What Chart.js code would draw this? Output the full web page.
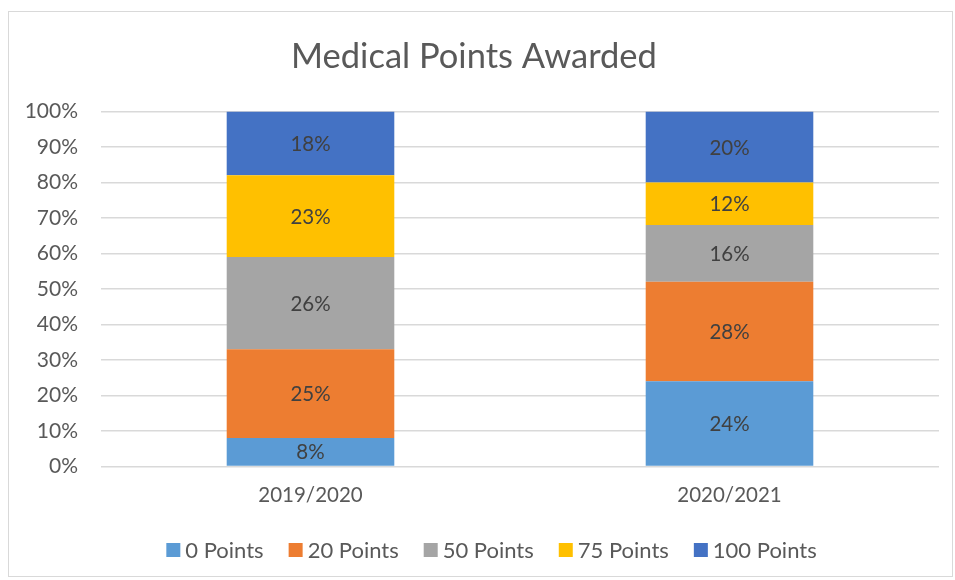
<!DOCTYPE html>
<html>
<head>
<meta charset="utf-8">
<script src="https://cdn.jsdelivr.net/npm/chart.js@4/dist/chart.umd.min.js"></script>
<style>
  html, body { margin: 0; padding: 0; background: #fff; }
  #frame {
    position: absolute; left: 8px; top: 11px;
    width: 943px; height: 564px;
    border: 1px solid #d9d9d9;
  }
  #frame canvas { display: block; }
</style>
</head>
<body>
<div id="frame"><canvas id="pointsChart" width="943" height="564"></canvas></div>
<script>
const seasons = ["2019/2020", "2020/2021"];
const pointLevels = ["0 Points", "20 Points", "50 Points", "75 Points", "100 Points"];
const share0 = [8, 24];
const share20 = [25, 28];
const share50 = [26, 16];
const share75 = [23, 12];
const share100 = [18, 20];
const yTicks = [0, 10, 20, 30, 40, 50, 60, 70, 80, 90, 100];

const palette = ["#5B9BD5", "#ED7D31", "#A5A5A5", "#FFC000", "#4472C4"];
const fontFamily = "Lato, 'Open Sans', sans-serif";

const seriesValues = [share0, share20, share50, share75, share100];

// writes each segment's percentage in the middle of its bar piece
const segmentLabels = {
    id: "segmentLabels",
    afterDatasetsDraw(chart) {
        const ctx = chart.ctx;
        ctx.save();
        ctx.font = "20.5px " + fontFamily;
        ctx.fillStyle = "#404040";
        ctx.textAlign = "center";
        ctx.textBaseline = "middle";
        chart.data.datasets.forEach((ds, i) => {
            const meta = chart.getDatasetMeta(i);
            meta.data.forEach((bar, j) => {
                const v = ds.data[j];
                ctx.fillText(v + "%", bar.x, (bar.y + bar.base) / 2 + 1);
            });
        });
        ctx.restore();
    }
};

// compact legend row under the axis: small square, short gap, label
const bottomLegend = {
    id: "bottomLegend",
    afterDraw(chart, args, opts) {
        const ctx = chart.ctx;
        const box = 14, gap = 5, spacing = 25;
        ctx.save();
        ctx.font = "22px " + fontFamily;
        ctx.textBaseline = "middle";
        const items = chart.data.datasets.map(ds => ({
            text: ds.label,
            color: ds.backgroundColor,
            w: box + gap + ctx.measureText(ds.label).width
        }));
        const total = items.reduce((s, it) => s + it.w, 0) + spacing * (items.length - 1);
        let x = chart.width / 2 + opts.shiftX - total / 2;
        const y = chart.height - opts.fromBottom;
        items.forEach(it => {
            ctx.fillStyle = it.color;
            ctx.fillRect(x, y - box / 2, box, box);
            ctx.fillStyle = "#595959";
            ctx.fillText(it.text, x + box + gap, y + 1);
            x += it.w + spacing;
        });
        ctx.restore();
    }
};

new Chart(document.getElementById("pointsChart"), {
    type: "bar",
    data: {
        labels: seasons,
        datasets: pointLevels.map((name, i) => ({
            label: name,
            data: seriesValues[i],
            backgroundColor: palette[i],
            borderWidth: 0,
            barPercentage: 0.4,
            categoryPercentage: 1
        }))
    },
    options: {
        responsive: false,
        animation: false,
        layout: { padding: { left: 0, right: 13, top: 0, bottom: 59 } },
        plugins: {
            title: {
                display: true,
                text: "Medical Points Awarded",
                color: "#595959",
                font: { family: fontFamily, size: 34.5, weight: "normal" },
                padding: { top: 24, bottom: 34 }
            },
            legend: { display: false },
            bottomLegend: { shiftX: 11, fromBottom: 26 },
            tooltip: { enabled: false }
        },
        scales: {
            x: {
                stacked: true,
                grid: { display: false },
                border: { display: false },
                ticks: {
                    color: "#595959",
                    font: { family: fontFamily, size: 20.5 },
                    padding: 9
                }
            },
            y: {
                stacked: true,
                min: 0,
                max: 100,
                afterBuildTicks(scale) {
                    scale.ticks = yTicks.map(v => ({ value: v }));
                },
                afterFit(scale) {
                    scale.width = 92;
                },
                grid: { color: "#d9d9d9", lineWidth: 1.5, drawTicks: false },
                border: { display: false },
                ticks: {
                    color: "#595959",
                    font: { family: fontFamily, size: 21 },
                    padding: 23,
                    callback: v => v + "%"
                }
            }
        }
    },
    plugins: [segmentLabels, bottomLegend]
});
</script>
</body>
</html>
